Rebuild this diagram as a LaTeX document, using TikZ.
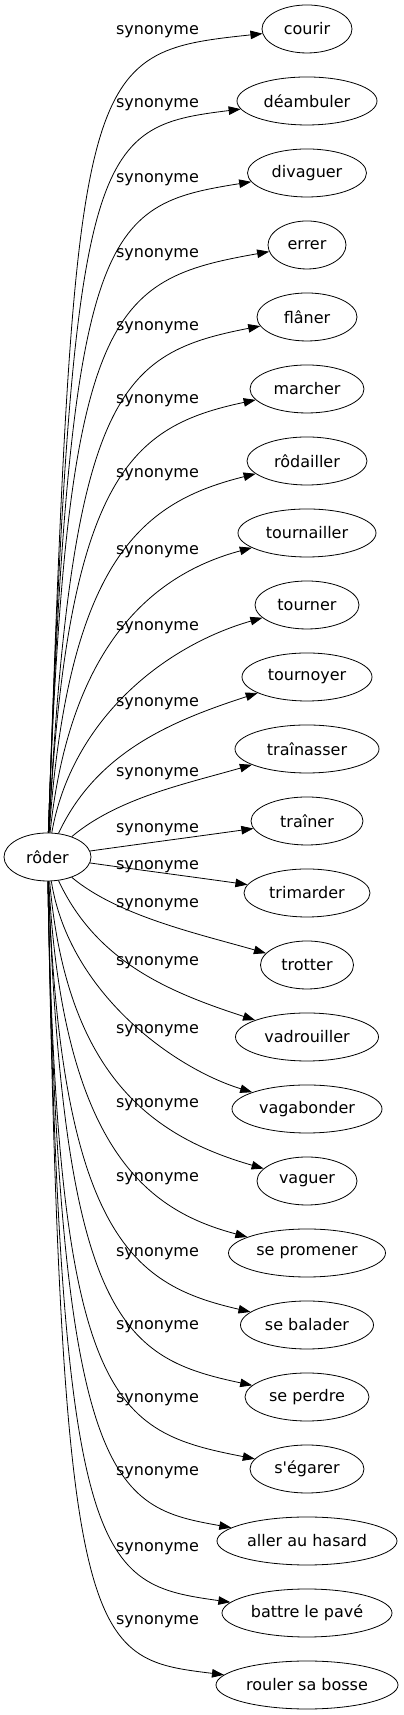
\documentclass[tikz,border=0pt]{standalone}
\usepackage{fontspec}
\setmainfont{DejaVu Sans}
\usetikzlibrary{arrows.meta,shapes.geometric,topaths}
\tikzset{word/.style={draw=black, ellipse, line width=0.8pt, minimum height=48pt, inner sep=0pt, font=\fontsize{16}{19}\selectfont}}
\tikzset{link/.style={draw=black, line width=0.8pt, -{Triangle[length=12pt,width=8.5pt]}}}
\tikzset{tag/.style={anchor=base, inner sep=0pt, font=\fontsize{16}{19}\selectfont}}

\begin{document}
\begin{tikzpicture}[x=1pt,y=1pt]
	\useasboundingbox (0,0) rectangle (404,1715);
	\node[word, minimum width=87pt] (roder) at (47.5,858) {rôder};
	\foreach \i/\nm/\txt/\hw/\ly in {0/courir/courir/45/1685, 1/deambuler/déambuler/70/1612,
		2/divaguer/divaguer/59.5/1537, 3/errer/errer/39/1462, 4/flaner/flâner/50/1389,
		5/marcher/marcher/57/1316, 6/rodailler/rôdailler/60/1242, 7/tournailler/tournailler/69/1165,
		8/tourner/tourner/52/1089, 9/tournoyer/tournoyer/65/1013, 10/trainasser/traînasser/72/943,
		11/trainer/traîner/56/887, 12/trimarder/trimarder/63/850, 13/trotter/trotter/46.5/812,
		14/vadrouiller/vadrouiller/71.5/754, 15/vagabonder/vagabonder/75/686, 16/vaguer/vaguer/50/612,
		17/sepromener/se promener/78.5/538, 18/sebalader/se balader/66.5/463, 19/seperdre/se perdre/62/390,
		20/segarer/s\textquotesingle égarer/57/317, 21/allerauhasard/aller au hasard/90/244,
		22/battrelepave/battre le pavé/85/168, 23/roulersabosse/rouler sa bosse/91/95}{
		\pgfmathsetmacro\dk{\i-11.5}
		\pgfmathsetmacro\rk{abs(\dk)}
		\pgfmathsetmacro\bw{2*\hw}
		\pgfmathsetmacro\odist{ifthenelse(\rk<1,50,ifthenelse(\rk<2,60,ifthenelse(\rk<3,90,82.5*\rk-176)))}
		\pgfmathsetmacro\oang{ifthenelse(\rk<1,8,ifthenelse(\rk<2,40,ifthenelse(\rk<3,65,90-1030/\odist)))}
		\pgfmathsetmacro\iang{ifthenelse(\rk<1,188,ifthenelse(\rk<2,196,ifthenelse(\rk<3,198,201-1.25*\rk)))}
		\pgfmathsetmacro\idist{ifthenelse(\rk<1,50,ifthenelse(\rk<2,70,ifthenelse(\rk<3,90,126.4-\hw+8.75*\rk)))}
		\pgfmathtruncatemacro\oout{ifthenelse(\dk<0,\oang,360-\oang)}
		\pgfmathtruncatemacro\iin{ifthenelse(\dk<0,\iang,360-\iang)}
		\node[word, minimum width=\bw pt] (\nm) at (307,{858-72*\dk}) {\txt};
		\node[tag] (l\nm) at (157.5,\ly-4.5) {synonyme};
		\draw[link] (roder) to[out=\oout, in=\iin, out distance=\odist pt, in distance=\idist pt] (\nm);
	}
\end{tikzpicture}
\end{document}
